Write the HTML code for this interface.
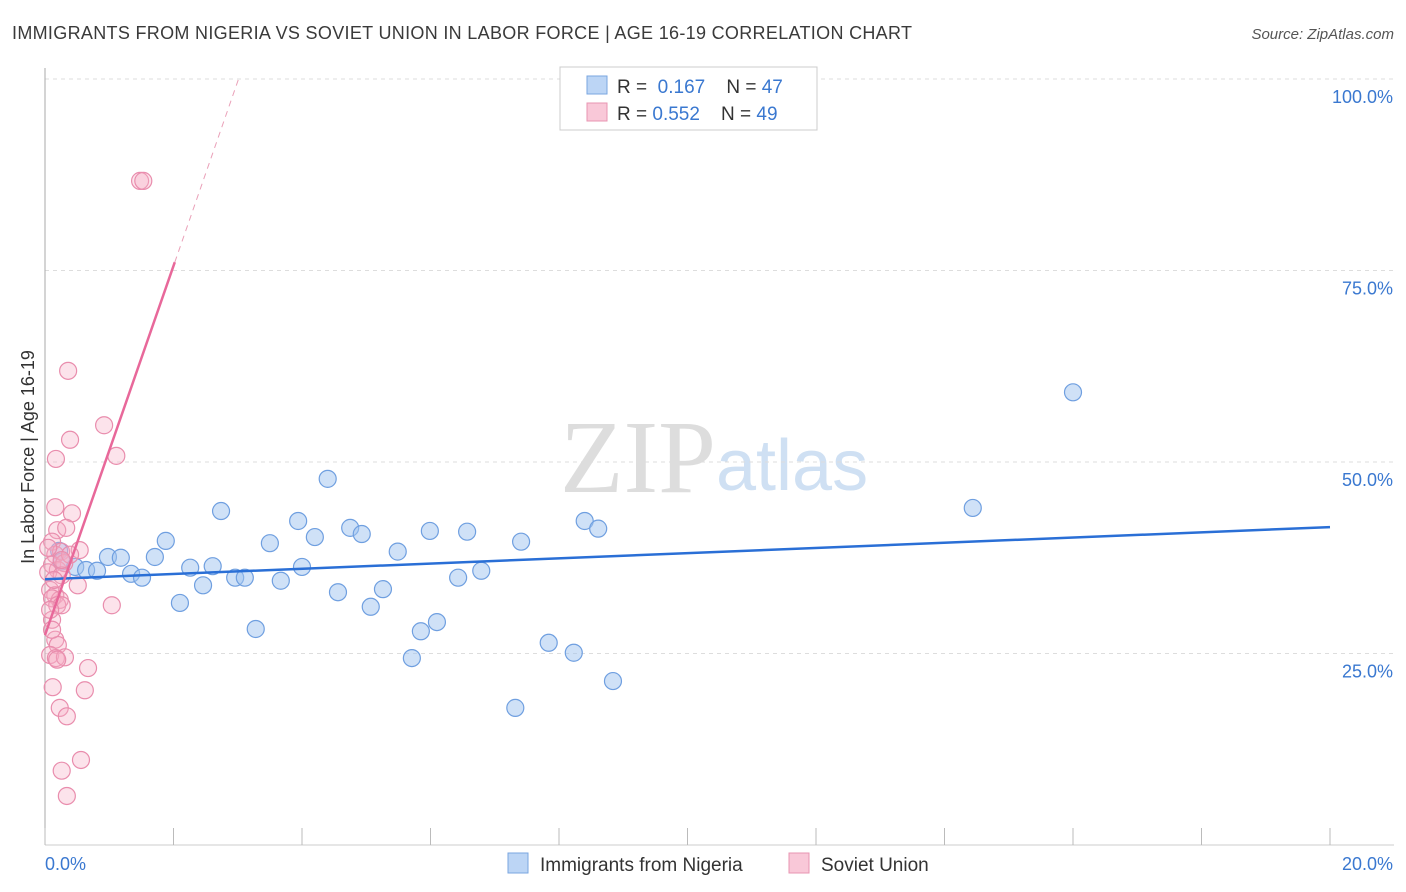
<!DOCTYPE html><html><head><meta charset="utf-8"><style>
body{margin:0;background:#fff;font-family:"Liberation Sans",sans-serif}
</style></head><body>
<svg id="c" width="1406" height="892" style="display:block">
<text x="12" y="39" font-size="18" fill="#3a3a3a" textLength="900">IMMIGRANTS FROM NIGERIA VS SOVIET UNION IN LABOR FORCE | AGE 16-19 CORRELATION CHART</text>
<text x="1394" y="39" font-size="15" fill="#555" text-anchor="end" font-style="italic">Source: ZipAtlas.com</text>
<text x="716" y="492" font-size="104" fill="#ddd" text-anchor="end" font-family="Liberation Serif">ZIP</text>
<text x="716" y="490" font-size="72" fill="#cfe0f3">atlas</text>
<text transform="translate(34,457) rotate(-90)" font-size="18" fill="#333" text-anchor="middle">In Labor Force | Age 16-19</text>
<g id="grid"></g><g id="marks"></g>
<rect x="560" y="67" width="257" height="63" fill="#fff" stroke="#ccc"/>
<rect x="587" y="76" width="20" height="18" fill="#bcd5f5" stroke="#7aa6e0"/>
<rect x="587" y="103" width="20" height="18" fill="#f9c8d8" stroke="#e895b2"/>
<text x="617" y="93" font-size="19" fill="#333">R = <tspan fill="#3a78d0">&#160;0.167</tspan>&#160;&#160;&#160; N = <tspan fill="#3a78d0">47</tspan></text>
<text x="617" y="120" font-size="19" fill="#333">R = <tspan fill="#3a78d0">0.552</tspan>&#160;&#160;&#160; N = <tspan fill="#3a78d0">49</tspan></text>
<rect x="508" y="853" width="20" height="20" fill="#bcd5f5" stroke="#7aa6e0"/>
<text x="540" y="871" font-size="19" fill="#333">Immigrants from Nigeria</text>
<rect x="789" y="853" width="20" height="20" fill="#f9c8d8" stroke="#e895b2"/>
<text x="821" y="871" font-size="19" fill="#333">Soviet Union</text>
</svg>
<script>
const blueX=[0.22,0.26,0.47,0.64,0.81,0.98,1.18,1.34,1.51,1.71,1.88,2.10,2.26,2.46,2.61,2.74,2.96,3.11,3.28,3.50,3.67,3.94,4.00,4.20,4.40,4.56,4.75,4.93,5.07,5.26,5.49,5.71,5.85,5.99,6.10,6.43,6.57,6.79,7.32,7.41,7.84,8.23,8.40,8.61,8.84,14.44,16.00];
const blueY=[38.4,37.0,36.3,35.9,35.8,37.6,37.5,35.4,34.9,37.6,39.7,31.6,36.2,33.9,36.4,43.6,34.9,34.9,28.2,39.4,34.5,42.3,36.3,40.2,47.8,33.0,41.4,40.6,31.1,33.4,38.3,24.4,27.9,41.0,29.1,34.9,40.9,35.8,17.9,39.6,26.4,25.1,42.3,41.3,21.4,44.0,59.1];
const pinkX=[1.48,1.53,0.36,0.39,0.92,0.17,1.11,0.16,0.42,0.19,0.33,0.54,0.11,0.16,0.25,0.11,0.20,0.30,0.51,0.08,0.16,0.23,0.11,1.04,0.19,0.26,0.11,0.16,0.20,0.08,0.17,0.31,0.19,0.67,0.12,0.62,0.23,0.34,0.26,0.56,0.34,0.05,0.05,0.26,0.08,0.14,0.39,0.26,0.11];
const pinkY=[86.7,86.7,61.9,52.9,54.8,50.4,50.8,44.1,43.3,41.1,41.4,38.5,39.6,37.9,38.3,36.6,35.9,36.8,33.9,33.3,32.6,32.0,32.2,31.3,31.3,31.3,29.4,26.8,26.1,24.8,24.4,24.5,24.2,23.1,20.6,20.2,17.9,16.8,9.7,11.1,6.4,35.6,38.8,35.2,30.7,34.6,37.9,37.2,28.1];
const blueLine=[34.7,41.5]; // y at x=0 and x=20
const pinkLine=[27.4,24.1]; // intercept, slope per %
const yTicks=[25,50,75,100];
const xTickLabels=["0.0%","20.0%"];
const NS="http://www.w3.org/2000/svg";
const sx=v=>45+v/20*1285, sy=v=>845-v/100*766;
function mk(t,a,p){const e=document.createElementNS(NS,t);for(const k in a)e.setAttribute(k,a[k]);p.appendChild(e);return e;}
const g=document.getElementById('grid'),m=document.getElementById('marks');
for(const t of yTicks){
 const l=mk('line',{x1:45,x2:1394,y1:sy(t),y2:sy(t),stroke:'#ddd','stroke-dasharray':'4,4'},g);
 
 
 const tx=mk('text',{x:1393,y:sy(t)+24,'font-size':18,fill:'#3a78d0','text-anchor':'end'},g);tx.textContent=t.toFixed(1)+'%';
 
 
}
const ax=mk('line',{x1:45,x2:45,y1:68,y2:845,stroke:'#aaa'},g);


const bx=mk('line',{x1:45,x2:1394,y1:845,y2:845,stroke:'#ccc'},g);


for(let i=0;i<=10;i++){const t=mk('line',{x1:sx(i*2),x2:sx(i*2),y1:828,y2:845,stroke:'#bbb'},g);
 
 }
const xl0=mk('text',{x:45,y:870,'font-size':18,fill:'#3a78d0'},g);xl0.textContent=xTickLabels[0];


const xl1=mk('text',{x:1393,y:870,'font-size':18,fill:'#3a78d0','text-anchor':'end'},g);xl1.textContent=xTickLabels[1];


blueX.forEach((x,i)=>{const c=mk('circle',{cx:sx(x),cy:sy(blueY[i]),r:8.5,fill:'rgba(160,196,240,0.5)',stroke:'#6f9fe0','stroke-width':1.2},m);
 
 });
pinkX.forEach((x,i)=>{const c=mk('circle',{cx:sx(x),cy:sy(pinkY[i]),r:8.5,fill:'rgba(246,175,198,0.35)',stroke:'#e98dad','stroke-width':1.2},m);
 
 });
const bl=mk('line',{x1:sx(0),y1:sy(blueLine[0]),x2:sx(20),y2:sy(blueLine[1]),stroke:'#2a6fd6','stroke-width':2.5},m);


const xs=2.02,xe=(100-pinkLine[0])/pinkLine[1];
const pl=mk('line',{x1:sx(0),y1:sy(pinkLine[0]),x2:sx(xs),y2:sy(pinkLine[0]+pinkLine[1]*xs),stroke:'#e8689a','stroke-width':2.5},m);


const pd=mk('line',{x1:sx(xs),y1:sy(pinkLine[0]+pinkLine[1]*xs),x2:sx(xe),y2:sy(100),stroke:'#eaa0b8','stroke-width':1,'stroke-dasharray':'6,5'},m);


</script></body></html>
